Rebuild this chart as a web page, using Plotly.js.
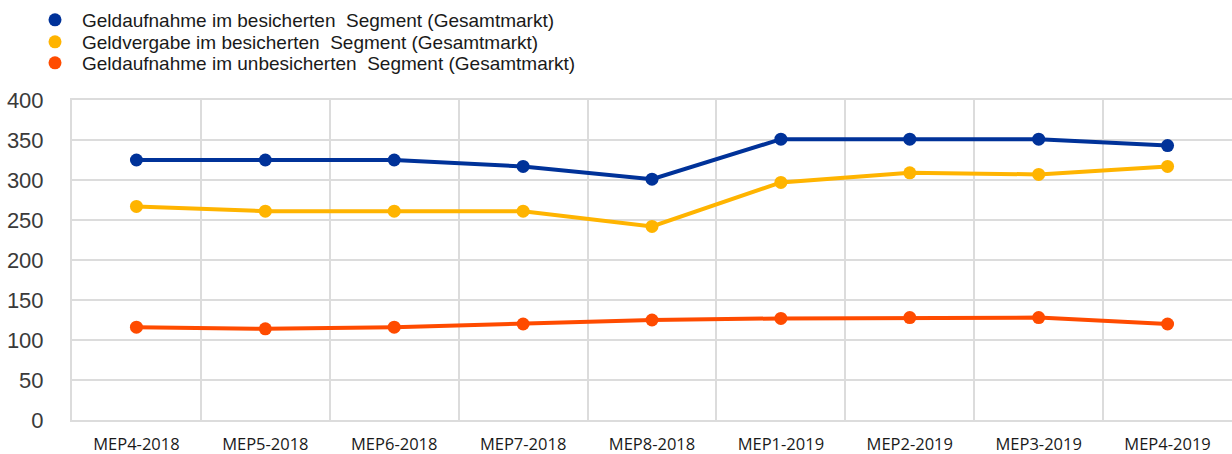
<!DOCTYPE html>
<html>
<head>
<meta charset="utf-8">
<script src="https://cdn.plot.ly/plotly-3.0.1.min.js"></script>
<style>html,body{margin:0;padding:0;background:#fff;}#chart{width:1232px;height:454px;}</style>
</head>
<body>
<div id="chart"></div>
<script>
var categories = ["MEP4-2018","MEP5-2018","MEP6-2018","MEP7-2018","MEP8-2018","MEP1-2019","MEP2-2019","MEP3-2019","MEP4-2019"];
var seriesNames = [
  "Geldaufnahme im besicherten  Segment (Gesamtmarkt)",
  "Geldvergabe im besicherten  Segment (Gesamtmarkt)",
  "Geldaufnahme im unbesicherten  Segment (Gesamtmarkt)"
];
var securedBorrowing = [325, 325, 325, 317, 301, 351, 351, 351, 343];
var securedLending   = [267, 261, 261, 261, 242, 297, 309, 307, 317];
var unsecuredBorrowing = [116, 114, 116, 120, 125, 127, 128, 128, 120];
var yTicks = [0, 50, 100, 150, 200, 250, 300, 350, 400];

var colors = ["#003299", "#FFB400", "#FF4B00"];
var values = [securedBorrowing, securedLending, unsecuredBorrowing];
var legends = ["legend", "legend2", "legend3"];

var traces = [];
values.forEach(function(v, i){
  traces.push({x: categories, y: v, type: "scatter", mode: "lines",
    line: {color: colors[i], width: 4}, showlegend: false, hoverinfo: "skip"});
});
values.forEach(function(v, i){
  traces.push({x: categories, y: v, type: "scatter", mode: "markers", name: seriesNames[i],
    marker: {color: colors[i], size: 13}, legend: legends[i], showlegend: true});
});

var W = 1160, H = 320, L = 72, T = 100;
function lx(px){ return (px - L) / W; }
function ly(py){ return 1 + (T - py) / H; }
function legendAt(py){
  return {x: lx(28), xanchor: "left", y: ly(py), yanchor: "middle",
    font: {family: "Liberation Sans, Arial, sans-serif", size: 19, color: "#1a1a1a"},
    bgcolor: "rgba(0,0,0,0)", itemwidth: 44, borderwidth: 0};
}

var layout = {
  width: 1232, height: 454,
  margin: {l: L, r: 0, t: T, b: 34},
  paper_bgcolor: "#ffffff", plot_bgcolor: "#ffffff",
  showlegend: true,
  legend: legendAt(20),
  legend2: legendAt(42),
  legend3: legendAt(63),
  xaxis: {
    type: "category", range: [-0.5, 8.5], tickson: "boundaries",
    showgrid: true, gridcolor: "#dcdcdc", gridwidth: 2,
    ticks: "", zeroline: false,
    showline: true, mirror: true, linecolor: "#dcdcdc", linewidth: 2,
    tickfont: {family: "Open Sans, sans-serif", size: 16.5, color: "#1a1a1a"},
    ticklabelstandoff: 8
  },
  yaxis: {
    range: [0, 400], tickvals: yTicks, ticktext: yTicks.map(String),
    showgrid: true, gridcolor: "#dcdcdc", gridwidth: 2,
    zeroline: true, zerolinecolor: "#dcdcdc", zerolinewidth: 2,
    ticks: "", showline: true, linecolor: "#dcdcdc", linewidth: 2,
    tickfont: {family: "Liberation Sans, Arial, sans-serif", size: 22, color: "#3a3a3a"},
    ticklabelstandoff: 22
  },
  hovermode: false
};

Plotly.newPlot("chart", traces, layout, {displayModeBar: false, staticPlot: true});
</script>
</body>
</html>
